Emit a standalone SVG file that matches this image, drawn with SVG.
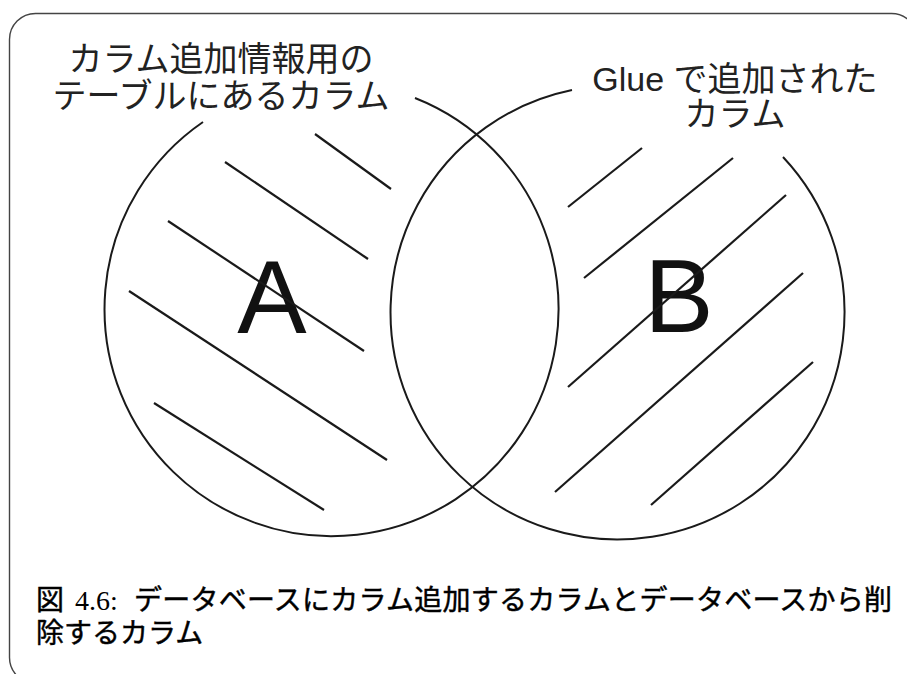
<svg xmlns="http://www.w3.org/2000/svg" width="907" height="674" viewBox="0 0 907 674">
<style>
.frame{fill:none;stroke:#444;stroke-width:1.4}
.circ{fill:none;stroke:#1a1a1a;stroke-width:2}
.hatch{stroke:#1a1a1a;stroke-width:2.2;stroke-linecap:butt}
.lbl{font-family:"Liberation Sans","Noto Sans CJK JP",sans-serif;font-size:34px;fill:#222;text-anchor:middle}
.big{font-family:"Liberation Sans",Arial,sans-serif;font-size:104px;fill:#111;text-anchor:middle}
.cap{font-family:"Noto Sans CJK JP",sans-serif;font-size:28px;font-weight:400;fill:#000;stroke:#000;stroke-width:0.45}
.capnum{font-family:"Liberation Serif","DejaVu Serif",serif;font-size:28px;fill:#000}
</style>
<rect class="frame" x="9.5" y="13.5" width="908" height="670" rx="26" ry="26"/>
<g id="setA">
<path class="circ" d="M 203 122 A 227 227 0 1 0 415 98"/>
<text class="big" x="272" y="333">A</text>
</g>
<g id="setB">
<path class="circ" d="M 572 90 A 227 227 0 1 0 783 157"/>
<text class="big" x="679" y="332">B</text>
</g>
<g id="hatching">
<line class="hatch" x1="315" y1="134" x2="391" y2="189"/>
<line class="hatch" x1="225" y1="162" x2="368" y2="259"/>
<line class="hatch" x1="168" y1="221" x2="364" y2="351"/>
<line class="hatch" x1="129" y1="291" x2="387" y2="460"/>
<line class="hatch" x1="154" y1="403" x2="324" y2="510"/>
<line class="hatch" x1="642" y1="148" x2="568" y2="207"/>
<line class="hatch" x1="733" y1="158" x2="584" y2="278"/>
<line class="hatch" x1="786" y1="195" x2="568" y2="387"/>
<line class="hatch" x1="803" y1="273" x2="555" y2="492"/>
<line class="hatch" x1="813" y1="362" x2="651" y2="505"/>
</g>
<g id="labelA">
<text class="lbl" x="221" y="71">カラム追加情報用の</text>
<text class="lbl" x="221" y="108">テーブルにあるカラム</text>
</g>
<g id="labelB">
<text class="lbl" x="735" y="91">Glue で追加された</text>
<text class="lbl" x="735" y="126">カラム</text>
</g>
<g id="caption">
<text class="cap" x="36" y="610">図</text>
<text class="capnum" x="75" y="610">4.6:</text>
<text class="cap" x="134" y="610" textLength="758" lengthAdjust="spacing">データベースにカラム追加するカラムとデータベースから削</text>
<text class="cap" x="36" y="643">除するカラム</text>
</g>
</svg>
